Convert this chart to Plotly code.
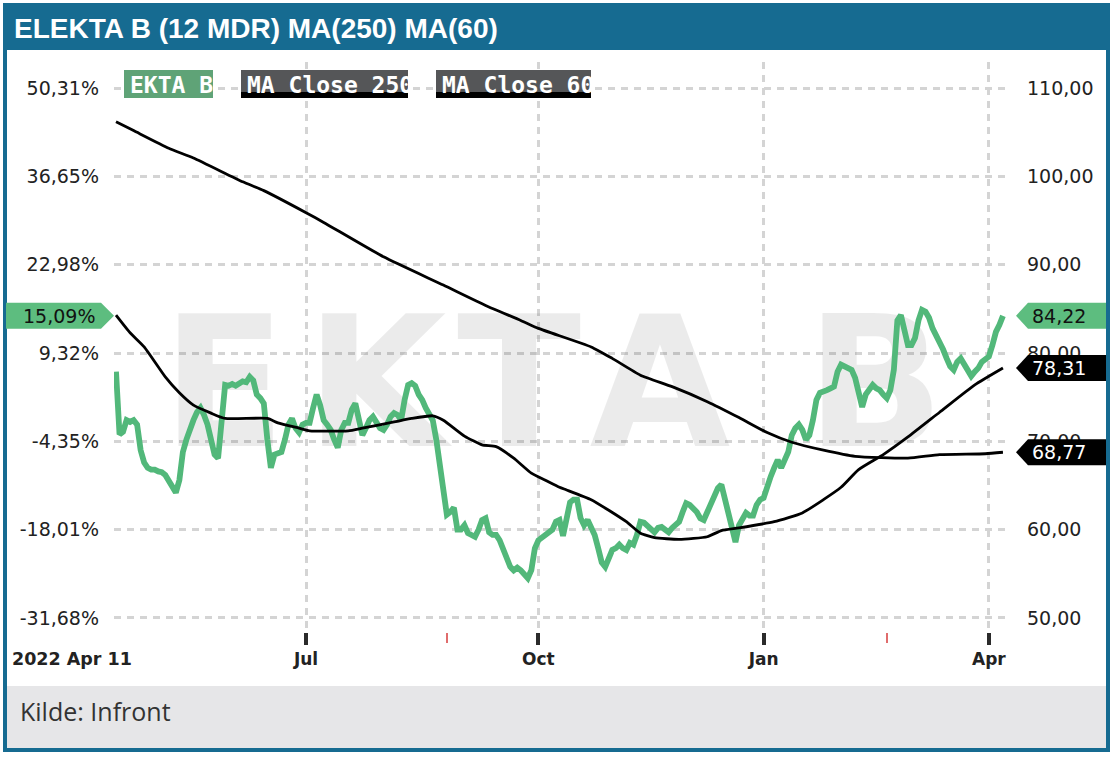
import plotly.graph_objects as go
import pandas as pd

# ---------------- data ----------------
title_text = "ELEKTA B (12 MDR) MA(250) MA(60)"
ticker = "EKTA B"
source_text = "Kilde: Infront"
start_label = "2022 Apr 11"
legend_names = ["EKTA B", "MA Close 250", "MA Close 60"]

market_holidays = ["2022-04-15", "2022-04-18", "2022-05-26", "2022-06-06", "2022-06-24",
                   "2022-12-26", "2023-01-06", "2023-04-07", "2023-04-10"]

# daily close, one value per trading day from 2022-04-11 to 2023-04-11
close = [
    77.9, 70.8, 71.1, 72.4, 72.2, 72.4, 71.9, 69.0, 67.6, 67.0,
    66.8, 66.8, 66.6, 66.5, 66.2, 65.6, 64.8, 64.2, 65.6, 68.8,
    70.2, 71.5, 72.4, 73.3, 73.8, 73.0, 71.9, 70.2, 68.5, 68.1,
    72.4, 76.4, 76.3, 76.5, 76.3, 76.6, 76.8, 76.7, 77.3, 76.9,
    75.3, 74.9, 74.3, 70.2, 67.0, 68.5, 68.7, 68.8, 70.2, 71.9,
    72.6, 71.5, 71.0, 71.9, 72.1, 72.1, 73.8, 75.3, 74.1, 72.4,
    71.9, 71.3, 70.2, 69.3, 71.3, 72.1, 72.1, 73.6, 74.3, 72.4,
    70.7, 71.5, 72.4, 72.8, 72.2, 71.5, 71.3, 71.9, 72.8, 73.2,
    73.0, 72.4, 74.7, 76.4, 76.6, 76.3, 75.3, 74.7, 73.8, 73.2,
    72.4, 70.2, 67.3, 64.2, 61.7, 62.0, 62.5, 60.0, 60.0, 60.5,
    59.6, 59.4, 59.2, 60.0, 61.1, 61.3, 59.7, 59.4, 59.4, 58.8,
    57.9, 56.8, 55.8, 55.4, 55.7, 55.4, 54.9, 54.5, 55.4, 57.9,
    58.8, 59.1, 59.4, 59.6, 60.0, 60.9, 61.1, 59.3, 61.1, 63.1,
    63.4, 63.4, 61.3, 60.5, 61.1, 60.2, 59.4, 57.9, 56.3, 55.8,
    56.6, 57.7, 57.9, 58.3, 57.9, 57.7, 58.5, 58.3, 59.4, 60.9,
    60.8, 60.5, 60.0, 59.7, 60.2, 60.3, 60.0, 59.7, 60.2, 60.5,
    60.9, 62.0, 63.0, 62.8, 62.5, 62.0, 61.3, 61.1, 62.0, 62.8,
    63.9, 64.7, 65.1, 63.4, 61.3, 59.6, 58.6, 60.5, 61.3, 61.9,
    61.6, 61.6, 62.8, 63.4, 63.6, 65.1, 66.0, 67.0, 67.9, 67.0,
    67.9, 68.8, 70.7, 71.5, 71.9, 71.3, 70.2, 70.7, 72.4, 74.7,
    75.5, 75.6, 75.8, 76.0, 76.2, 77.9, 78.7, 78.5, 78.3, 78.1,
    77.2, 75.3, 73.9, 75.3, 76.0, 76.4, 76.0, 75.8, 75.3, 74.9,
    75.8, 78.1, 83.7, 84.3, 82.6, 80.9, 80.9, 81.7, 83.7, 84.9,
    84.7, 84.0, 82.8, 82.0, 81.5, 80.4, 79.4, 78.5, 78.1, 79.0,
    79.4, 78.7, 78.1, 77.4, 77.9, 78.3, 79.0, 79.4, 79.6, 80.9,
    82.4, 83.2, 84.22,
]

# moving averages, read at selected trading days
ma250_day = [0, 5, 15, 22, 36, 42, 54, 59, 76, 93, 105, 115, 120, 135, 141, 149, 158,
             168, 177, 185, 192, 201, 210, 225, 234, 247, 252]
ma250_val = [106.2, 105.2, 103.2, 102.1, 99.4, 98.4, 95.9, 94.8, 90.9, 87.7, 85.4, 83.7,
             82.8, 80.7, 79.4, 77.5, 76.2, 74.5, 72.7, 71.0, 69.9, 69.0, 68.3, 68.1, 68.5,
             68.6, 68.77]

ma60_day = [0, 4, 8, 14, 18, 22, 27, 31, 43, 46, 52, 55, 66, 70, 79, 84, 90, 93, 99, 104,
            108, 113, 118, 122, 126, 128, 135, 140, 145, 149, 153, 160, 168, 172, 177, 187,
            195, 201, 206, 211, 218, 225, 234, 244, 252]
ma60_val = [84.3, 82.3, 80.7, 77.3, 75.5, 74.1, 73.2, 72.6, 72.6, 72.1, 71.5, 71.2, 71.2,
            71.5, 72.2, 72.6, 72.9, 72.4, 70.6, 69.6, 69.4, 68.1, 66.4, 65.6, 64.8, 64.5,
            63.4, 62.2, 60.9, 59.6, 59.1, 58.9, 59.2, 59.9, 60.2, 60.9, 61.9, 63.4, 64.8,
            66.8, 68.5, 70.5, 73.3, 76.4, 78.31]

reference_close = 73.18
price_ticks = [50, 60, 70, 80, 90, 100, 110]
month_starts = ["2022-07-01", "2022-10-01", "2023-01-01", "2023-04-01"]
month_labels = ["Jul", "Oct", "Jan", "Apr"]
event_dates = ["2022-08-26", "2023-02-21"]

# ---------------- calendar ----------------
cal = pd.bdate_range("2022-04-11", "2023-04-11")
cal = cal[~cal.isin(pd.to_datetime(market_holidays))]
n = min(len(cal), len(close))
day = list(range(n))
close = close[:n]
tick_days = [int((cal >= pd.Timestamp(m)).argmax()) for m in month_starts]
event_days = [int(cal.get_loc(pd.Timestamp(d))) for d in event_dates]

# ---------------- style / layout geometry ----------------
W, H = 1112, 758
L, R, T, B = 114, 1010, 62, 632
X0, X1 = -0.57, 254.0
Y0, Y1 = 48.41, 112.97

BLUE = "#166b91"
GREEN_LINE = "#52b87a"
GREEN_TAG = "#5dbd7f"
GREEN_BADGE = "#5fa377"
GRAY_BADGE = "#555658"
GRID = "#d4d4d4"
TXT = "#222222"


def pxx(xp):
    return (xp - L) / (R - L)


def pxy(yp):
    return (B - yp) / (B - T)


def dx(xp):
    return X0 + (xp - L) / (R - L) * (X1 - X0)


def dy(yp):
    return Y0 + (B - yp) / (B - T) * (Y1 - Y0)


def pct(v):
    return f"{(v / reference_close - 1) * 100:.2f}%".replace(".", ",")


def num(v):
    return f"{v:.2f}".replace(".", ",")


fig = go.Figure()

# watermark (behind lines)
wm_letters = list(ticker.replace(" ", ""))
wm_px = [224, 376, 519, 660, 875]
fig.add_trace(go.Scatter(
    x=[dx(p) for p in wm_px], y=[dy(400)] * len(wm_px), mode="text",
    text=wm_letters, textposition="middle center",
    textfont=dict(family="DejaVu Sans", size=182, color="rgba(0,0,0,0.08)", weight="bold"),
    hoverinfo="skip", showlegend=False, cliponaxis=False,
))

fig.add_trace(go.Scatter(x=day, y=close, mode="lines",
                         line=dict(color=GREEN_LINE, width=5.8), name=legend_names[0]))
fig.add_trace(go.Scatter(x=ma250_day, y=ma250_val, mode="lines",
                         line=dict(color="#000000", width=2.8, shape="spline", smoothing=0.5),
                         name=legend_names[1]))
fig.add_trace(go.Scatter(x=ma60_day, y=ma60_val, mode="lines", yaxis="y2",
                         line=dict(color="#000000", width=2.8, shape="spline", smoothing=0.5),
                         name=legend_names[2]))

axis_font = dict(family="DejaVu Sans", size=19, color=TXT)

shapes = []
annotations = []

# frame, title bar, footer
shapes.append(dict(type="rect", xref="paper", yref="paper", x0=pxx(3), x1=pxx(1110),
                   y0=pxy(3), y1=pxy(50), fillcolor=BLUE, line=dict(width=0), layer="below"))
shapes.append(dict(type="rect", xref="paper", yref="paper", x0=pxx(5), x1=pxx(1108),
                   y0=pxy(686), y1=pxy(750), fillcolor="#e6e6e8", line=dict(width=0), layer="below"))
shapes.append(dict(type="rect", xref="paper", yref="paper", x0=pxx(5), x1=pxx(1108),
                   y0=pxy(5), y1=pxy(750), fillcolor="rgba(0,0,0,0)",
                   line=dict(color=BLUE, width=4), layer="above"))

annotations.append(dict(xref="paper", yref="paper", x=pxx(12), y=pxy(28), xanchor="left",
                        yanchor="middle", showarrow=False, text=title_text,
                        font=dict(family="Liberation Sans", size=28, color="white", weight="bold")))
annotations.append(dict(xref="paper", yref="paper", x=pxx(18), y=pxy(711), xanchor="left",
                        yanchor="middle", showarrow=False, text=source_text,
                        font=dict(family="Open Sans", size=25, color="#333333")))
annotations.append(dict(xref="paper", yref="paper", x=pxx(10), y=pxy(659), xanchor="left",
                        yanchor="middle", showarrow=False, text=start_label,
                        font=dict(family="DejaVu Sans", size=17.5, color=TXT, weight="bold")))

# legend badges
badges = [(124, 213, GREEN_BADGE, False), (241, 408, GRAY_BADGE, True), (436, 591, GRAY_BADGE, True)]
for (x_a, x_b, col, band), name in zip(badges, legend_names):
    shapes.append(dict(type="rect", xref="paper", yref="paper", x0=pxx(x_a), x1=pxx(x_b),
                       y0=pxy(70), y1=pxy(98), fillcolor=col, line=dict(width=0), layer="above"))
    if band:
        shapes.append(dict(type="rect", xref="paper", yref="paper", x0=pxx(x_a), x1=pxx(x_b),
                           y0=pxy(92), y1=pxy(98), fillcolor="#000000", line=dict(width=0),
                           layer="above"))
    annotations.append(dict(xref="paper", yref="paper", x=pxx(x_a + 5), y=pxy(71),
                            xanchor="left", yanchor="top", showarrow=False, text=name,
                            width=x_b - x_a - 5, height=26, align="left", borderpad=0,
                            font=dict(family="DejaVu Sans Mono", size=23, color="white",
                                      weight="bold")))

# price tags
hh = 13 / (B - T) * (Y1 - Y0)


def right_tag(v, fill, txtcol):
    a, b, c = pxx(1016), pxx(1028), pxx(1106)
    shapes.append(dict(type="path", xref="paper", yref="y",
                       path=f"M {a},{v} L {b},{v + hh} L {c},{v + hh} L {c},{v - hh} L {b},{v - hh} Z",
                       fillcolor=fill, line=dict(width=0), layer="above"))
    annotations.append(dict(xref="paper", yref="y", x=pxx(1030), y=v, xanchor="left",
                            yanchor="middle", showarrow=False, text=num(v),
                            font=dict(family="DejaVu Sans", size=19, color=txtcol)))


right_tag(close[-1], GREEN_TAG, "#111111")
right_tag(ma60_val[-1], "#000000", "white")
right_tag(ma250_val[-1], "#000000", "white")

v = close[-1]
a, b, c = pxx(6), pxx(101), pxx(114)
shapes.append(dict(type="path", xref="paper", yref="y",
                   path=f"M {a},{v + hh} L {b},{v + hh} L {c},{v} L {b},{v - hh} L {a},{v - hh} Z",
                   fillcolor=GREEN_TAG, line=dict(width=0), layer="above"))
annotations.append(dict(xref="paper", yref="y", x=pxx(97), y=v, xanchor="right",
                        yanchor="middle", showarrow=False, text=pct(v),
                        font=dict(family="DejaVu Sans", size=19, color="#111111")))

fig.update_layout(
    width=W, height=H, autosize=False,
    margin=dict(l=L, r=W - R, t=T, b=H - B, pad=0),
    paper_bgcolor="white", plot_bgcolor="white",
    showlegend=False,
    xaxis=dict(range=[X0, X1], tickmode="array", tickvals=tick_days, ticktext=month_labels,
               ticks="outside", ticklen=12, tickwidth=4, tickcolor="#2b2b2b",
               showgrid=True, gridcolor=GRID, gridwidth=3, griddash="7px,6px",
               zeroline=False, showline=False,
               tickfont=dict(family="DejaVu Sans", size=17, color=TXT, weight="bold"),
               minor=dict(tickmode="array", tickvals=event_days, ticks="outside", ticklen=10,
                          tickwidth=2, tickcolor="#e06c6c", showgrid=False)),
    yaxis=dict(range=[Y0, Y1], tickmode="array", tickvals=price_ticks,
               ticktext=[pct(p) for p in price_ticks], side="left",
               showgrid=True, gridcolor=GRID, gridwidth=3, griddash="7px,6px",
               zeroline=False, showline=False, ticks="", ticklabelstandoff=14,
               tickfont=axis_font),
    yaxis2=dict(range=[Y0, Y1], tickmode="array", tickvals=price_ticks,
                ticktext=[num(p) for p in price_ticks], side="right", overlaying="y",
                showgrid=False, zeroline=False, showline=False, ticks="",
                ticklabelstandoff=16, tickfont=axis_font),
    shapes=shapes,
    annotations=annotations,
)

fig.write_html("out.html", config={"displayModeBar": False},
               post_script="document.body.style.margin='0';document.body.style.overflow='hidden';")
